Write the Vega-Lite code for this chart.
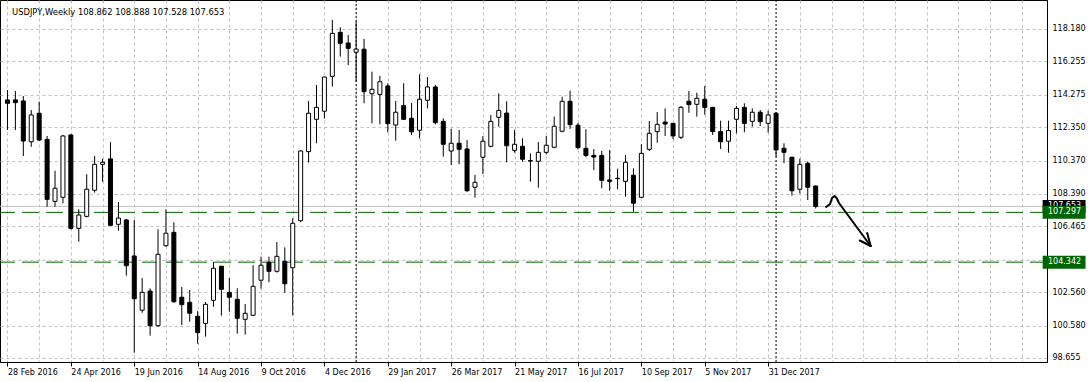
{
  "$schema": "https://vega.github.io/schema/vega-lite/v6.json",
  "width": 1047,
  "height": 362,
  "autosize": "none",
  "padding": {"left": 0, "top": 0, "right": 44, "bottom": 20},
  "background": "white",
  "config": {
    "font": "DejaVu Sans",
    "view": {"stroke": "#000", "strokeWidth": 1},
    "axis": {"labelFont": "DejaVu Sans", "labelFontSize": 8, "labelColor": "#000"}
  },
  "datasets": {
    "info": [{"txt": "USDJPY,Weekly  108.862 108.888 107.528 107.653"}],
    "candles": [
      {"d":"2016-02-28","o":113.97,"h":114.56,"l":112.19,"c":113.77},
      {"d":"2016-03-06","o":113.97,"h":114.50,"l":112.19,"c":113.81},
      {"d":"2016-03-13","o":113.91,"h":114.20,"l":110.64,"c":111.53},
      {"d":"2016-03-20","o":111.49,"h":113.37,"l":111.19,"c":113.08},
      {"d":"2016-03-27","o":113.18,"h":113.87,"l":111.53,"c":111.59},
      {"d":"2016-04-03","o":111.63,"h":111.83,"l":107.63,"c":108.07},
      {"d":"2016-04-10","o":107.95,"h":109.77,"l":107.63,"c":108.73},
      {"d":"2016-04-17","o":108.19,"h":111.90,"l":107.83,"c":111.83},
      {"d":"2016-04-24","o":111.89,"h":111.95,"l":106.28,"c":106.35},
      {"d":"2016-05-01","o":106.35,"h":107.48,"l":105.56,"c":107.14},
      {"d":"2016-05-08","o":107.06,"h":109.56,"l":107.00,"c":108.67},
      {"d":"2016-05-15","o":108.61,"h":110.64,"l":108.47,"c":110.15},
      {"d":"2016-05-22","o":110.15,"h":110.47,"l":109.12,"c":110.27},
      {"d":"2016-05-29","o":110.47,"h":111.47,"l":106.51,"c":106.53},
      {"d":"2016-06-05","o":106.59,"h":107.91,"l":106.21,"c":106.96},
      {"d":"2016-06-12","o":106.85,"h":106.90,"l":103.54,"c":104.13},
      {"d":"2016-06-19","o":104.71,"h":106.85,"l":98.97,"c":102.17},
      {"d":"2016-06-26","o":101.49,"h":103.40,"l":101.34,"c":102.55},
      {"d":"2016-07-03","o":102.63,"h":102.79,"l":99.98,"c":100.57},
      {"d":"2016-07-10","o":100.57,"h":106.29,"l":100.51,"c":104.81},
      {"d":"2016-07-17","o":105.32,"h":107.48,"l":105.26,"c":106.06},
      {"d":"2016-07-24","o":106.11,"h":106.71,"l":101.94,"c":101.99},
      {"d":"2016-07-31","o":102.26,"h":102.87,"l":100.61,"c":101.82},
      {"d":"2016-08-07","o":101.96,"h":102.69,"l":100.81,"c":101.31},
      {"d":"2016-08-14","o":101.13,"h":101.44,"l":99.50,"c":100.16},
      {"d":"2016-08-21","o":100.71,"h":101.98,"l":99.92,"c":101.84},
      {"d":"2016-08-28","o":102.08,"h":104.35,"l":101.70,"c":103.98},
      {"d":"2016-09-04","o":104.10,"h":104.12,"l":101.17,"c":102.73},
      {"d":"2016-09-11","o":102.55,"h":103.40,"l":101.40,"c":102.26},
      {"d":"2016-09-18","o":102.14,"h":102.79,"l":100.10,"c":101.01},
      {"d":"2016-09-25","o":100.95,"h":101.86,"l":100.04,"c":101.31},
      {"d":"2016-10-02","o":101.19,"h":104.16,"l":101.15,"c":102.91},
      {"d":"2016-10-09","o":103.27,"h":104.67,"l":102.77,"c":104.16},
      {"d":"2016-10-16","o":104.33,"h":104.67,"l":103.15,"c":103.80},
      {"d":"2016-10-23","o":103.80,"h":105.54,"l":103.72,"c":104.69},
      {"d":"2016-10-30","o":104.39,"h":105.22,"l":102.53,"c":103.06},
      {"d":"2016-11-06","o":104.01,"h":106.95,"l":101.17,"c":106.65},
      {"d":"2016-11-13","o":106.80,"h":110.98,"l":106.71,"c":110.94},
      {"d":"2016-11-20","o":110.90,"h":113.91,"l":110.25,"c":113.18},
      {"d":"2016-11-27","o":112.82,"h":114.86,"l":111.40,"c":113.53},
      {"d":"2016-12-04","o":113.30,"h":115.35,"l":112.86,"c":115.33},
      {"d":"2016-12-11","o":115.37,"h":118.71,"l":114.76,"c":117.92},
      {"d":"2016-12-18","o":117.98,"h":118.28,"l":116.54,"c":117.33},
      {"d":"2016-12-25","o":117.35,"h":117.82,"l":116.04,"c":117.03},
      {"d":"2017-01-01","o":116.80,"h":118.60,"l":115.06,"c":116.99},
      {"d":"2017-01-08","o":116.98,"h":117.59,"l":113.77,"c":114.46},
      {"d":"2017-01-15","o":114.34,"h":115.65,"l":112.58,"c":114.60},
      {"d":"2017-01-22","o":114.30,"h":115.39,"l":112.52,"c":115.05},
      {"d":"2017-01-29","o":114.80,"h":114.96,"l":112.05,"c":112.56},
      {"d":"2017-02-05","o":112.48,"h":113.91,"l":111.55,"c":113.24},
      {"d":"2017-02-12","o":113.63,"h":114.96,"l":112.78,"c":112.82},
      {"d":"2017-02-19","o":112.88,"h":113.79,"l":111.89,"c":112.08},
      {"d":"2017-02-26","o":112.17,"h":115.49,"l":111.69,"c":114.01},
      {"d":"2017-03-05","o":113.95,"h":115.33,"l":113.47,"c":114.74},
      {"d":"2017-03-12","o":114.74,"h":114.86,"l":112.52,"c":112.62},
      {"d":"2017-03-19","o":112.70,"h":112.88,"l":110.60,"c":111.34},
      {"d":"2017-03-26","o":110.94,"h":112.25,"l":110.11,"c":111.40},
      {"d":"2017-04-02","o":111.40,"h":112.19,"l":110.15,"c":111.04},
      {"d":"2017-04-09","o":111.06,"h":111.59,"l":108.52,"c":108.58},
      {"d":"2017-04-16","o":108.79,"h":109.52,"l":108.17,"c":109.08},
      {"d":"2017-04-23","o":110.57,"h":111.83,"l":109.57,"c":111.52},
      {"d":"2017-04-30","o":111.22,"h":113.08,"l":111.15,"c":112.70},
      {"d":"2017-05-07","o":112.94,"h":114.36,"l":112.38,"c":113.35},
      {"d":"2017-05-14","o":113.19,"h":113.89,"l":110.27,"c":111.25},
      {"d":"2017-05-21","o":110.98,"h":112.19,"l":110.84,"c":111.34},
      {"d":"2017-05-28","o":111.22,"h":111.69,"l":110.30,"c":110.45},
      {"d":"2017-06-04","o":110.37,"h":110.80,"l":109.12,"c":110.34},
      {"d":"2017-06-11","o":110.33,"h":111.47,"l":108.76,"c":110.86},
      {"d":"2017-06-18","o":110.86,"h":111.83,"l":110.74,"c":111.28},
      {"d":"2017-06-25","o":111.16,"h":112.98,"l":111.10,"c":112.41},
      {"d":"2017-07-02","o":112.11,"h":114.16,"l":112.05,"c":113.89},
      {"d":"2017-07-09","o":113.89,"h":114.52,"l":112.25,"c":112.50},
      {"d":"2017-07-16","o":112.47,"h":112.60,"l":111.04,"c":111.14},
      {"d":"2017-07-23","o":111.10,"h":112.23,"l":110.57,"c":110.68},
      {"d":"2017-07-30","o":110.68,"h":111.06,"l":109.81,"c":110.58},
      {"d":"2017-08-06","o":110.68,"h":110.94,"l":108.73,"c":109.20},
      {"d":"2017-08-13","o":109.22,"h":111.00,"l":108.58,"c":109.14},
      {"d":"2017-08-20","o":109.32,"h":109.89,"l":108.67,"c":109.30},
      {"d":"2017-08-27","o":109.14,"h":110.70,"l":108.23,"c":110.27},
      {"d":"2017-09-03","o":109.50,"h":109.91,"l":107.34,"c":107.84},
      {"d":"2017-09-10","o":108.19,"h":111.35,"l":108.15,"c":110.80},
      {"d":"2017-09-17","o":111.04,"h":112.72,"l":110.94,"c":111.99},
      {"d":"2017-09-24","o":112.09,"h":113.25,"l":111.43,"c":112.52},
      {"d":"2017-10-01","o":112.66,"h":113.47,"l":111.83,"c":112.54},
      {"d":"2017-10-08","o":112.58,"h":112.60,"l":111.65,"c":111.83},
      {"d":"2017-10-15","o":111.75,"h":113.61,"l":111.65,"c":113.53},
      {"d":"2017-10-22","o":113.89,"h":114.50,"l":113.21,"c":113.69},
      {"d":"2017-10-29","o":113.71,"h":114.40,"l":112.98,"c":114.07},
      {"d":"2017-11-05","o":114.01,"h":114.80,"l":113.09,"c":113.53},
      {"d":"2017-11-12","o":113.53,"h":113.55,"l":111.89,"c":112.09},
      {"d":"2017-11-19","o":112.09,"h":112.74,"l":111.06,"c":111.49},
      {"d":"2017-11-26","o":111.52,"h":112.74,"l":110.84,"c":112.15},
      {"d":"2017-12-03","o":112.82,"h":113.61,"l":111.99,"c":113.47},
      {"d":"2017-12-10","o":113.53,"h":113.77,"l":112.05,"c":112.58},
      {"d":"2017-12-17","o":112.70,"h":113.47,"l":112.38,"c":113.24},
      {"d":"2017-12-24","o":113.24,"h":113.37,"l":112.42,"c":112.68},
      {"d":"2017-12-31","o":112.58,"h":113.33,"l":112.03,"c":113.08},
      {"d":"2018-01-07","o":113.18,"h":113.25,"l":110.60,"c":111.00},
      {"d":"2018-01-14","o":111.10,"h":111.40,"l":110.21,"c":110.86},
      {"d":"2018-01-21","o":110.57,"h":110.60,"l":108.29,"c":108.58},
      {"d":"2018-01-28","o":108.67,"h":110.48,"l":108.43,"c":110.15},
      {"d":"2018-02-04","o":110.21,"h":110.31,"l":108.03,"c":108.79},
      {"d":"2018-02-11","o":108.862,"h":108.888,"l":107.528,"c":107.653}
    ],
    "levels": [
      {"p": 107.297, "label": "107.297", "kind": "level"},
      {"p": 104.342, "label": "104.342", "kind": "level"}
    ],
    "bid": [{"p": 107.653, "label": "107.653", "kind": "bid"}],
    "separators": [{"d": "2017-01-01"}, {"d": "2018-01-07"}],
    "arrow": [
      {"seg": "shaft", "ord": 1, "t": "2018-02-20T04:30:00Z", "p": 107.616},
      {"seg": "shaft", "ord": 2, "t": "2018-02-23T16:30:00Z", "p": 107.794},
      {"seg": "shaft", "ord": 3, "t": "2018-02-25T10:30:00Z", "p": 108.150},
      {"seg": "shaft", "ord": 4, "t": "2018-02-27T15:00:00Z", "p": 108.269},
      {"seg": "shaft", "ord": 5, "t": "2018-03-01T19:30:00Z", "p": 108.121},
      {"seg": "shaft", "ord": 6, "t": "2018-03-03T13:30:00Z", "p": 107.854},
      {"seg": "shaft", "ord": 7, "t": "2018-03-31T13:30:00Z", "p": 105.302},
      {"seg": "barb1", "ord": 1, "t": "2018-03-21T22:30:00Z", "p": 105.628},
      {"seg": "barb1", "ord": 2, "t": "2018-03-31T13:30:00Z", "p": 105.302},
      {"seg": "barb2", "ord": 1, "t": "2018-03-28T12:00:00Z", "p": 106.073},
      {"seg": "barb2", "ord": 2, "t": "2018-03-31T13:30:00Z", "p": 105.302}
    ]
  },
  "layer": [
    {
      "data": {"name": "bid"},
      "mark": {"type": "rule", "color": "#c0c0c0", "strokeWidth": 1},
      "encoding": {
        "y": {"field": "p", "type": "quantitative",
          "scale": {"domain": [98.417, 119.901], "nice": false, "zero": false},
          "axis": {
            "orient": "right",
            "title": null,
            "values": [98.655, 100.58, 102.56, 104.485, 106.465, 108.39, 110.37, 112.35, 114.275, 116.255, 118.18],
            "tickCount": 11,
            "format": ".3f",
            "labelExpr": "abs(datum.value - 104.485) < 0.01 ? '' : datum.label",
            "grid": true,
            "gridColor": "#c0c0c0",
            "gridDash": [3, 3],
            "gridWidth": 1,
            "ticks": false,
            "domainColor": "#000",
            "labelPadding": 5,
            "labelOverlap": false,
            "labelSeparation": 0,
            "labelFlush": false,
            "labelBound": false
          }
        }
      }
    },
    {
      "data": {"name": "separators"},
      "mark": {"type": "rule", "color": "#000", "strokeWidth": 1, "strokeDash": [2, 2]},
      "encoding": {
        "x": {"field": "d", "type": "temporal",
          "scale": {"type": "utc", "domain": [
            {"year": 2016, "month": "Feb", "date": 25, "hours": 19, "minutes": 30, "utc": true},
            {"year": 2018, "month": "Aug", "date": 29, "hours": 22, "minutes": 30, "utc": true}
          ]},
          "axis": {
            "orient": "bottom",
            "title": null,
            "values": [
              {"year":2016,"month":"Feb","date":28,"utc":true},
              {"year":2016,"month":"Mar","date":27,"utc":true},
              {"year":2016,"month":"Apr","date":24,"utc":true},
              {"year":2016,"month":"May","date":22,"utc":true},
              {"year":2016,"month":"Jun","date":19,"utc":true},
              {"year":2016,"month":"Jul","date":17,"utc":true},
              {"year":2016,"month":"Aug","date":14,"utc":true},
              {"year":2016,"month":"Sep","date":11,"utc":true},
              {"year":2016,"month":"Oct","date":9,"utc":true},
              {"year":2016,"month":"Nov","date":6,"utc":true},
              {"year":2016,"month":"Dec","date":4,"utc":true},
              {"year":2017,"month":"Jan","date":1,"utc":true},
              {"year":2017,"month":"Jan","date":29,"utc":true},
              {"year":2017,"month":"Feb","date":26,"utc":true},
              {"year":2017,"month":"Mar","date":26,"utc":true},
              {"year":2017,"month":"Apr","date":23,"utc":true},
              {"year":2017,"month":"May","date":21,"utc":true},
              {"year":2017,"month":"Jun","date":18,"utc":true},
              {"year":2017,"month":"Jul","date":16,"utc":true},
              {"year":2017,"month":"Aug","date":13,"utc":true},
              {"year":2017,"month":"Sep","date":10,"utc":true},
              {"year":2017,"month":"Oct","date":8,"utc":true},
              {"year":2017,"month":"Nov","date":5,"utc":true},
              {"year":2017,"month":"Dec","date":3,"utc":true},
              {"year":2017,"month":"Dec","date":31,"utc":true},
              {"year":2018,"month":"Jan","date":28,"utc":true},
              {"year":2018,"month":"Feb","date":25,"utc":true},
              {"year":2018,"month":"Mar","date":25,"utc":true},
              {"year":2018,"month":"Apr","date":22,"utc":true},
              {"year":2018,"month":"May","date":20,"utc":true},
              {"year":2018,"month":"Jun","date":17,"utc":true},
              {"year":2018,"month":"Jul","date":15,"utc":true},
              {"year":2018,"month":"Aug","date":12,"utc":true}
            ],
            "tickCount": 33,
            "format": "%-d %b %Y",
            "labelExpr": "(round((datum.value - 1456617600000) / 604800000) % 8 == 0 && datum.value < 1514764800000) ? datum.label : ''",
            "grid": true,
            "gridColor": "#c0c0c0",
            "gridDash": [3, 3],
            "gridWidth": 1,
            "ticks": true,
            "tickSize": 4,
            "tickColor": "#000",
            "tickOpacity": {"condition": {"test": "round((datum.value - 1456617600000) / 604800000) % 8 == 0 && datum.value < 1514764800000", "value": 1}, "value": 0},
            "domainColor": "#000",
            "labelAlign": "left",
            "labelBaseline": "top",
            "labelPadding": 2,
            "labelFlush": false,
            "labelOverlap": false,
            "labelBound": false
          }
        }
      }
    },
    {
      "data": {"name": "levels"},
      "mark": {"type": "rule", "color": "#006400", "strokeWidth": 1, "strokeDash": [17, 7]},
      "encoding": {
        "y": {"field": "p", "type": "quantitative"}
      }
    },
    {
      "data": {"name": "candles"},
      "mark": {"type": "rule", "color": "#000", "strokeWidth": 1},
      "encoding": {
        "x": {"field": "d", "type": "temporal"},
        "y": {"field": "l", "type": "quantitative"},
        "y2": {"field": "h"}
      }
    },
    {
      "data": {"name": "candles"},
      "mark": {"type": "bar", "size": 4, "stroke": "#000", "strokeWidth": 1},
      "encoding": {
        "x": {"field": "d", "type": "temporal"},
        "y": {"field": "o", "type": "quantitative"},
        "y2": {"field": "c"},
        "fill": {"condition": {"test": "datum.c > datum.o", "value": "#ffffff"}, "value": "#000000"}
      }
    },
    {
      "data": {"name": "arrow"},
      "mark": {"type": "line", "color": "#000", "strokeWidth": 2, "strokeCap": "round", "strokeJoin": "round"},
      "encoding": {
        "x": {"field": "t", "type": "temporal"},
        "y": {"field": "p", "type": "quantitative"},
        "detail": {"field": "seg"},
        "order": {"field": "ord", "type": "quantitative"}
      }
    },
    {
      "data": {"name": "info"},
      "mark": {"type": "text", "align": "left", "baseline": "alphabetic", "dx": 7, "dy": 15, "fontSize": 8.4, "font": "DejaVu Sans", "color": "#000"},
      "encoding": {
        "x": {"datum": {"year": 2016, "month": "Feb", "date": 25, "hours": 19, "minutes": 30, "utc": true}, "type": "temporal"},
        "y": {"datum": 119.901, "type": "quantitative"},
        "text": {"field": "txt"}
      }
    },
    {
      "data": {"name": "bid"},
      "mark": {"type": "point", "shape": "M0.1,-1H6.7V1H0.1Z", "size": 169, "filled": true, "opacity": 1, "color": "#000"},
      "encoding": {
        "x": {"datum": {"year": 2018, "month": "Aug", "date": 29, "hours": 22, "minutes": 30, "utc": true}, "type": "temporal"},
        "y": {"field": "p", "type": "quantitative"}
      }
    },
    {
      "data": {"name": "bid"},
      "mark": {"type": "text", "align": "left", "baseline": "middle", "dx": 6, "fontSize": 8, "font": "DejaVu Sans", "color": "#fff"},
      "encoding": {
        "x": {"datum": {"year": 2018, "month": "Aug", "date": 29, "hours": 22, "minutes": 30, "utc": true}, "type": "temporal"},
        "y": {"field": "p", "type": "quantitative"},
        "text": {"field": "label"}
      }
    },
    {
      "data": {"name": "levels"},
      "mark": {"type": "point", "shape": "M0.1,-1H6.7V1H0.1Z", "size": 169, "filled": true, "opacity": 1, "color": "#006400"},
      "encoding": {
        "x": {"datum": {"year": 2018, "month": "Aug", "date": 29, "hours": 22, "minutes": 30, "utc": true}, "type": "temporal"},
        "y": {"field": "p", "type": "quantitative"}
      }
    },
    {
      "data": {"name": "levels"},
      "mark": {"type": "text", "align": "left", "baseline": "middle", "dx": 6, "fontSize": 8, "font": "DejaVu Sans", "color": "#fff"},
      "encoding": {
        "x": {"datum": {"year": 2018, "month": "Aug", "date": 29, "hours": 22, "minutes": 30, "utc": true}, "type": "temporal"},
        "y": {"field": "p", "type": "quantitative"},
        "text": {"field": "label"}
      }
    }
  ]
}
